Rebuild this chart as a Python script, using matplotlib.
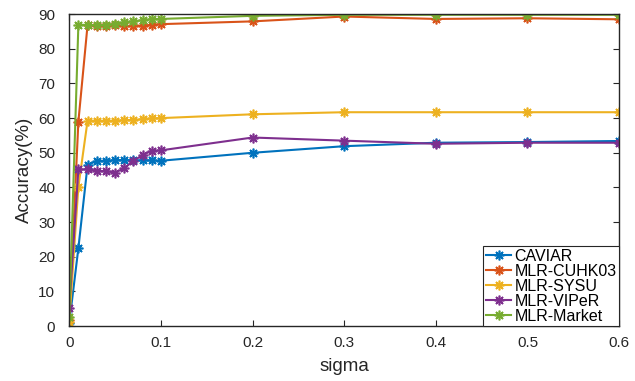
import numpy as np
import matplotlib.pyplot as plt

plt.rcParams['font.family'] = ['Liberation Sans', 'DejaVu Sans']

sigma = [0, 0.01, 0.02, 0.03, 0.04, 0.05, 0.06, 0.07, 0.08, 0.09, 0.1,
         0.2, 0.3, 0.4, 0.5, 0.6]

caviar = [0.8, 22.5, 46.4, 47.7, 47.7, 47.9, 47.9, 47.8, 47.8, 47.8, 47.7,
          50.0, 51.9, 52.9, 53.1, 53.4]
cuhk03 = [1.8, 59.0, 86.8, 86.7, 86.7, 86.8, 86.5, 86.7, 86.7, 86.9, 87.1,
          87.9, 89.3, 88.6, 88.8, 88.5]
sysu = [1.2, 40.2, 59.2, 59.3, 59.2, 59.3, 59.4, 59.5, 59.7, 59.9, 60.0,
        61.1, 61.7, 61.7, 61.7, 61.7]
viper = [5.3, 45.2, 45.2, 44.8, 44.7, 44.3, 45.5, 47.7, 49.3, 50.6, 50.7,
         54.4, 53.5, 52.6, 52.9, 52.9]
market = [2.5, 86.9, 86.9, 86.8, 86.9, 87.2, 87.6, 88.0, 88.2, 88.6, 88.6,
          89.5, 89.8, 89.8, 89.8, 89.8]

names = ['CAVIAR', 'MLR-CUHK03', 'MLR-SYSU', 'MLR-VIPeR', 'MLR-Market']
series = [caviar, cuhk03, sysu, viper, market]
colors = ['#0072BD', '#D95319', '#EDB120', '#7E2F8E', '#77AC30']

fig = plt.figure(figsize=(6.35, 3.81), dpi=100)
ax = fig.add_axes([0.109, 0.144, 0.866, 0.819])

for y, name, c in zip(series, names, colors):
    ax.plot(sigma, y, color=c, linewidth=1.5, marker=(8, 2, 0),
            markersize=7, markeredgewidth=1.2, label=name)

ax.set_xlim(0, 0.6)
ax.set_ylim(0, 90)
ax.set_xticks(np.arange(0, 0.61, 0.1))
ax.set_xticklabels(['0', '0.1', '0.2', '0.3', '0.4', '0.5', '0.6'])
ax.set_yticks(np.arange(0, 91, 10))
ax.tick_params(direction='in', labelsize=11, colors='#262626', length=4,
               top=True, right=True)
ax.tick_params(axis='x', pad=7)
ax.tick_params(axis='y', pad=10)
for s in ax.spines.values():
    s.set_color('#262626')
    s.set_linewidth(1)

ax.set_xlabel('sigma', fontsize=13.5, color='#262626', labelpad=6)
ax.set_ylabel('Accuracy(%)', fontsize=13.5, color='#262626', labelpad=4)

leg = ax.legend(loc='lower right', fontsize=11.5, fancybox=False,
                framealpha=1, edgecolor='#262626', borderaxespad=0,
                handlelength=1.6, handletextpad=0.2, labelspacing=0.0,
                borderpad=0.15)
leg.get_frame().set_linewidth(0.8)

plt.savefig('out.png', dpi=100)
